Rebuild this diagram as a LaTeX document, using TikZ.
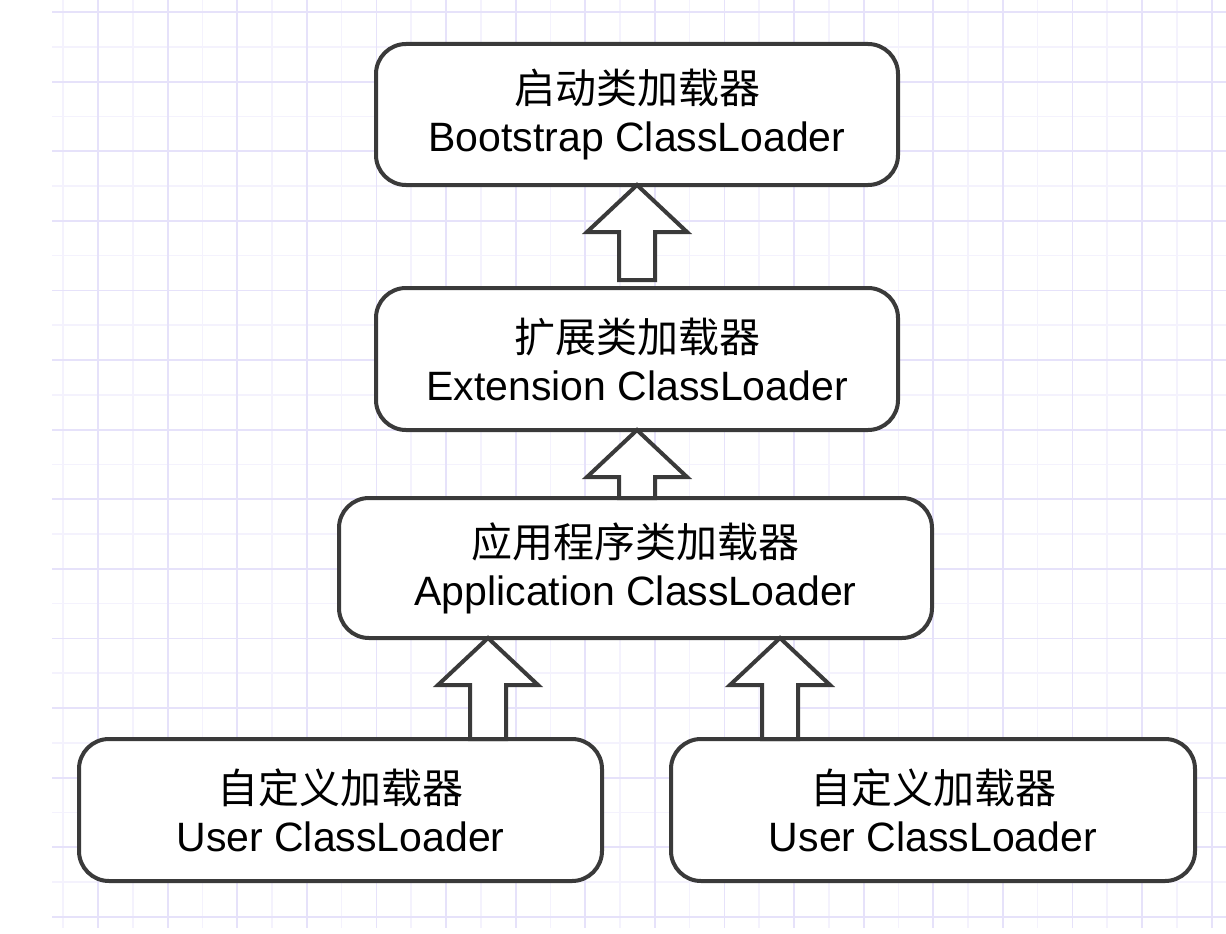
\documentclass[tikz,border=0pt]{standalone}
\usepackage{fontspec}
\setmainfont{Liberation Sans}
\newfontfamily\cjk{Noto Sans CJK SC}
\usetikzlibrary{calc}
\definecolor{linegray}{RGB}{58,58,58}
\definecolor{gridmajor}{RGB}{230,226,250}
\definecolor{gridminor}{RGB}{244,242,253}
\tikzset{
  loaderbox/.style={draw=linegray, line width=4pt, fill=white, rounded corners=30pt,
    outer sep=0pt, inner sep=0pt, align=center, text=black,
    font=\fontsize{41}{48}\selectfont},
  harrow/.style={draw=linegray, line width=4pt, fill=white, line join=miter},
  gmaj/.style={draw=gridmajor, line width=1.8pt},
  gmin/.style={draw=gridminor, line width=1.5pt}
}
\newcommand{\hollowarrow}[2]{%
  \draw[harrow] let \p1=(#1), \p2=(#2) in
   (\x1,\y1) -- (\x1+50pt,\y1-47pt) -- (\x1+18pt,\y1-47pt) -- (\x1+18pt,\y2)
   -- (\x1-18pt,\y2) -- (\x1-18pt,\y1-47pt) -- (\x1-50pt,\y1-47pt) -- cycle;}
\begin{document}
\begin{tikzpicture}[x=1pt,y=-1pt]
\fill[white] (0,0) rectangle (1226,934);
\useasboundingbox (0,0) rectangle (1226,934);
% grid
\foreach \i in {0,...,16} {
  \draw[gmin] ({63.2+69.6*\i},0) -- ({63.2+69.6*\i},928);
}
\foreach \i in {0,...,12} {
  \draw[gmin] (52,{46.8+69.6*\i}) -- (1226,{46.8+69.6*\i});
}
\foreach \i in {0,...,16} {
  \draw[gmaj] ({98+69.6*\i},0) -- ({98+69.6*\i},928);
}
\foreach \i in {0,...,13} {
  \draw[gmaj] (52,{12+69.6*\i}) -- (1226,{12+69.6*\i});
}
% boxes
\node[loaderbox, minimum width=522pt, minimum height=141pt] (boot) at (637,114.5)
  {{\cjk 启动类加载器}\\Bootstrap ClassLoader};
\node[loaderbox, minimum width=522pt, minimum height=142pt] (ext) at (637,359)
  {{\cjk 扩展类加载器}\\Extension ClassLoader};
\node[loaderbox, minimum width=593pt, minimum height=140pt] (app) at (635.5,568)
  {{\cjk 应用程序类加载器}\\Application ClassLoader};
\node[loaderbox, minimum width=523pt, minimum height=142pt] (u1) at (340.5,810)
  {{\cjk 自定义加载器}\\User ClassLoader};
\node[loaderbox, minimum width=524pt, minimum height=142pt] (u2) at (933,810)
  {{\cjk 自定义加载器}\\User ClassLoader};
% arrows
\hollowarrow{boot.south}{[yshift=8pt]ext.north}
\hollowarrow{ext.south}{app.north}
\hollowarrow{[xshift=-147.5pt]app.south}{u1.north}
\hollowarrow{[xshift=144.5pt]app.south}{u2.north}
\end{tikzpicture}
\end{document}
